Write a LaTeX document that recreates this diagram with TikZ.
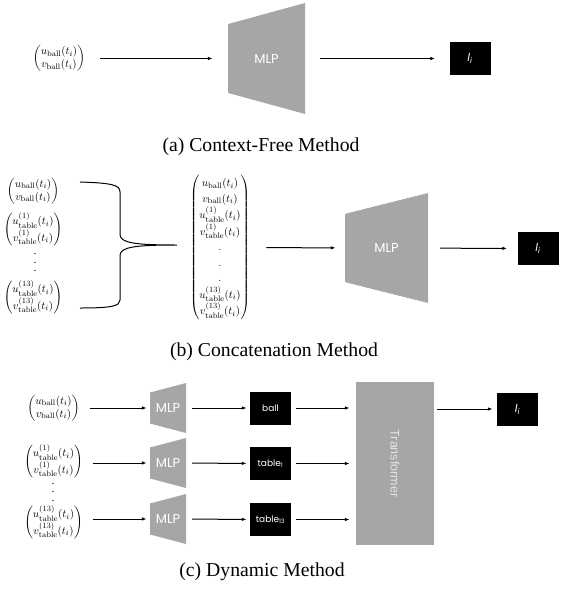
\documentclass[tikz,border=0pt]{standalone}
\usepackage{amsmath}
\usepackage[no-math]{fontspec}
\setmainfont{Liberation Serif}
\newfontfamily\blockfont{Poppins}
\newfontfamily\transfont{Liberation Sans}
\usetikzlibrary{calc,arrows.meta}

\definecolor{blockgray}{RGB}{166,166,166}
\definecolor{translabel}{RGB}{228,228,228}

\newcommand{\ballvec}{\begin{pmatrix} u_{\mathrm{ball}}(t_i)\\ v_{\mathrm{ball}}(t_i)\end{pmatrix}}
\newcommand{\tablevec}[1]{\begin{pmatrix} u^{(#1)}_{\mathrm{table}}(t_i)\\[1pt] v^{(#1)}_{\mathrm{table}}(t_i)\end{pmatrix}}
\newcommand{\lossi}{\textit{l}\textsubscript{\textit{i}}}

\begin{document}
\begin{tikzpicture}[x=1pt,y=-1pt,
    vec/.style={inner sep=0pt, font=\fontsize{11}{13}\selectfont},
    dots/.style={inner sep=0pt, align=center, font=\fontsize{11}{8.5}\selectfont},
    mlp/.style 2 args={minimum width=#1, minimum height=#2, inner sep=0pt,
      text=white, font=\blockfont\fontsize{13}{13}\selectfont,
      path picture={\fill[blockgray]
        ($(path picture bounding box.north west)!0.19!(path picture bounding box.south west)$)
        -- (path picture bounding box.north east) -- (path picture bounding box.south east)
        -- ($(path picture bounding box.south west)!0.19!(path picture bounding box.north west)$) -- cycle;}},
    outbox/.style={fill=black, text=white, minimum width=41pt, minimum height=33pt,
      inner sep=0pt, font=\blockfont\fontsize{9}{9}\selectfont},
    transbox/.style={fill=blockgray, minimum width=78pt, minimum height=163pt, inner sep=0pt},
    caption/.style={font=\fontsize{19.7}{22}\selectfont},
    arr/.style={line width=1pt, -{Latex[length=5pt,width=3.5pt]}},
  ]
  \useasboundingbox (0,0) rectangle (560,592);

  %% (a) context-free
  \node[vec] (vA) at (59,58.5) {$\ballvec$};
  \node[mlp={77pt}{111pt}] (mlpA) at (266.5,58.5) {MLP};
  \node[outbox, font=\blockfont\fontsize{11}{11}\selectfont] (liA) at (470,58.5) {\lossi};
  \draw[arr, shorten <=15pt, shorten >=15pt] (vA) -- (mlpA);
  \draw[arr, shorten <=15pt, shorten >=14pt] (mlpA) -- (liA);
  \node[caption] (capA) at (261,147) {(a) Context-Free Method};

  %% (b) concatenation
  \node[vec] (vB1) at (33,191) {$\ballvec$};
  \node[vec] (vB2) at (33,229) {$\tablevec{1}$};
  \node[dots] (dB) at (35,263) {.\\.\\.};
  \node[vec] (vB3) at (33,297) {$\tablevec{13}$};
  \coordinate (tipB) at (177,245);
  \draw[line width=1pt] (80,182) .. controls (112,183) and (120,185) .. (120,192) -- (120,235)
    .. controls (121,243) and (135,245) .. (tipB)
    .. controls (135,245) and (121,247) .. (120,255) -- (120,300)
    .. controls (120,306) and (112,308) .. (80,308);
  \node[vec] (bigvec) at (220,247.5) {\renewcommand{\arraystretch}{1.2}$\begin{pmatrix}
      u_{\mathrm{ball}}(t_i)\\ v_{\mathrm{ball}}(t_i)\\
      u^{(1)}_{\mathrm{table}}(t_i)\\ v^{(1)}_{\mathrm{table}}(t_i)\\
      .\\ .\\ .\\
      u^{(13)}_{\mathrm{table}}(t_i)\\ v^{(13)}_{\mathrm{table}}(t_i)
    \end{pmatrix}$};
  \node[mlp={83pt}{110pt}] (mlpB) at (386.5,248) {MLP};
  \node[outbox, font=\blockfont\fontsize{11}{11}\selectfont] (liB) at (538,248.5) {\lossi};
  \draw[arr, shorten <=16pt, shorten >=9pt] (bigvec) -- (mlpB);
  \draw[arr, shorten <=12pt, shorten >=10pt] (mlpB) -- (liB);
  \node[caption] (capB) at (274,352) {(b) Concatenation Method};

  %% (c) dynamic
  \node[vec] (vC1) at (53.5,408) {$\ballvec$};
  \node[vec] (vC2) at (53.5,461) {$\tablevec{1}$};
  \node[dots] (dC) at (53,492) {.\\.\\.};
  \node[vec] (vC3) at (53.5,522) {$\tablevec{13}$};
  \node[mlp={36pt}{50pt}] (mlpC1) at (168,408) {MLP};
  \node[mlp={36pt}{50pt}] (mlpC2) at (168,463) {MLP};
  \node[mlp={36pt}{50pt}] (mlpC3) at (168,519) {MLP};
  \node[outbox] (tokC1) at (270.5,408) {ball};
  \node[outbox] (tokC2) at (270.5,463.5) {table\textsubscript{1}};
  \node[outbox] (tokC3) at (270.5,519.5) {table\textsubscript{13}};
  \node[transbox] (trans) at (395,463.5) {};
  \node[rotate=-90, text=translabel, font=\transfont\fontsize{12.5}{12.5}\selectfont] (transtext) at (trans) {Transformer};
  \node[outbox, font=\blockfont\fontsize{11}{11}\selectfont] (liC) at (517.5,409) {\lossi};
  \foreach \i in {1,2,3} {
    \draw[arr, shorten <=10pt, shorten >=3pt] (vC\i.east |- mlpC\i) -- (mlpC\i);
    \draw[arr, shorten <=6pt, shorten >=3pt] (mlpC\i) -- (tokC\i);
    \draw[arr, shorten <=5pt, shorten >=6pt] (tokC\i) -- (tokC\i -| trans.west);
  }
  \draw[arr, shorten <=3pt, shorten >=4pt] (trans.east |- liC) -- (liC);
  \node[caption] (capC) at (262,572) {(c) Dynamic Method};
\end{tikzpicture}
\end{document}
